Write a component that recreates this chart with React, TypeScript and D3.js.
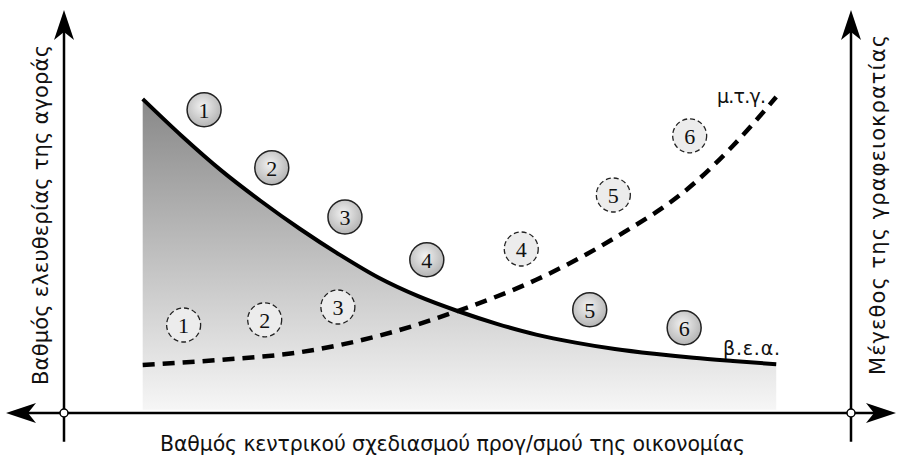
import React from "react";
import * as d3 from "d3";

// curve samples (x on 0..10 between the two vertical axes, y on 0..10 above the floor)
const beaX = [1.0, 1.5, 2.0, 2.5, 3.0, 3.5, 4.0, 4.5, 5.0, 5.5, 6.0, 6.5, 7.0, 7.5, 8.0, 8.5, 9.05];
const beaY = [7.85, 6.92, 6.06, 5.3, 4.6, 3.96, 3.38, 2.92, 2.55, 2.23, 1.96, 1.76, 1.6, 1.48, 1.38, 1.3, 1.22];
const mtgX = [1.0, 2.0, 3.0, 4.0, 5.0, 6.0, 7.0, 8.0, 8.5, 9.05];
const mtgY = [1.2, 1.33, 1.52, 1.93, 2.55, 3.33, 4.38, 5.73, 6.68, 7.9];

// numbered markers
const solidNums = ["1", "2", "3", "4", "5", "6"];
const solidX = [1.78, 2.64, 3.57, 4.61, 6.68, 7.88];
const solidY = [7.58, 6.13, 4.9, 3.83, 2.58, 2.13];
const dashNums = ["1", "2", "3", "4", "5", "6"];
const dashX = [1.52, 2.55, 3.48, 5.81, 6.98, 7.95];
const dashY = [2.2, 2.33, 2.65, 4.1, 5.45, 6.93];

const xTitle = "Βαθμός κεντρικού σχεδιασμού προγ/σμού της οικονομίας";
const yLeftTitle = "Βαθμός ελευθερίας της αγοράς";
const yRightTitle = "Μέγεθος της γραφειοκρατίας";
const beaLabel = "β.ε.α.";
const mtgLabel = "μ.τ.γ.";

const W = 898;
const H = 462;
const font = "'DejaVu Sans', sans-serif";

function Arrow({ x, y, angle }: { x: number; y: number; angle: number }) {
  return (
    <path
      d="M0,0 L-30,-10 L-22,0 L-30,10 Z"
      transform={`translate(${x},${y}) rotate(${angle})`}
      fill="#000"
    />
  );
}

export default function App() {
  const x = d3.scaleLinear().domain([0, 10]).range([64, 851]);
  const y = d3.scaleLinear().domain([0, 10]).range([413, 13]);

  const bea = beaX.map((v, i) => [v, beaY[i]] as [number, number]);
  const mtg = mtgX.map((v, i) => [v, mtgY[i]] as [number, number]);

  const line = d3
    .line<[number, number]>()
    .x(d => x(d[0]))
    .y(d => y(d[1]))
    .curve(d3.curveMonotoneX);
  const area = d3
    .area<[number, number]>()
    .x(d => x(d[0]))
    .y0(y(0.08))
    .y1(d => y(d[1]))
    .curve(d3.curveMonotoneX);

  const x0 = x(0);
  const x1 = x(10);
  const yb = y(0);

  return (
    <svg width={W} height={H} style={{ position: "absolute", left: 0, top: 0 }}>
      <defs>
        <linearGradient id="shade" x1="0" y1={y(7.85)} x2="0" y2={y(0.08)} gradientUnits="userSpaceOnUse">
          <stop offset="0" stopColor="#888" />
          <stop offset="1" stopColor="#f6f6f6" />
        </linearGradient>
        <radialGradient id="ball" cx="0.45" cy="0.4" r="0.6">
          <stop offset="0" stopColor="#f2f2f2" />
          <stop offset="1" stopColor="#b4b4b4" />
        </radialGradient>
      </defs>
      <rect width={W} height={H} fill="#fff" />

      <path d={area(bea) || ""} fill="url(#shade)" />
      <path d={line(bea) || ""} fill="none" stroke="#000" strokeWidth={4} />
      <path d={line(mtg) || ""} fill="none" stroke="#000" strokeWidth={4.5} strokeDasharray="12,8" />

      {/* axes */}
      <line x1={x0} y1={y(9.85)} x2={x0} y2={y(-0.72)} stroke="#000" strokeWidth={2.5} />
      <line x1={x1} y1={y(9.85)} x2={x1} y2={y(-0.72)} stroke="#000" strokeWidth={2.5} />
      <line x1={14} y1={yb} x2={W - 8} y2={yb} stroke="#000" strokeWidth={2.5} />
      <Arrow x={x0} y={10} angle={-90} />
      <Arrow x={x1} y={10} angle={-90} />
      <Arrow x={6} y={yb} angle={180} />
      <Arrow x={W - 2} y={yb} angle={0} />
      <circle cx={x0} cy={yb} r={4} fill="#fff" stroke="#000" strokeWidth={1.5} />
      <circle cx={x1} cy={yb} r={4} fill="#fff" stroke="#000" strokeWidth={1.5} />

      {solidNums.map((n, i) => (
        <g key={"s" + i} transform={`translate(${x(solidX[i])},${y(solidY[i])})`}>
          <circle r={17} fill="url(#ball)" stroke="#222" strokeWidth={1.5} />
          <text y={8} textAnchor="middle" fontFamily="'Liberation Serif', serif" fontSize={22} fill="#111">{n}</text>
        </g>
      ))}
      {dashNums.map((n, i) => (
        <g key={"d" + i} transform={`translate(${x(dashX[i])},${y(dashY[i])})`}>
          <circle r={17} fill="#ececec" stroke="#222" strokeWidth={1.3} strokeDasharray="5,3" />
          <text y={8} textAnchor="middle" fontFamily="'Liberation Serif', serif" fontSize={22} fill="#111">{n}</text>
        </g>
      ))}

      <text x={723} y={355} textLength={57} lengthAdjust="spacing" fontFamily={font} fontSize={19} fill="#111">{beaLabel}</text>
      <text x={717} y={103} textLength={49} lengthAdjust="spacing" fontFamily={font} fontSize={19} fill="#111">{mtgLabel}</text>

      <text x={160} y={451} textLength={585} lengthAdjust="spacing" fontFamily={font} fontSize={20.5} fill="#111">{xTitle}</text>
      <text transform="translate(48,385) rotate(-90)" textLength={340} lengthAdjust="spacing" fontFamily={font} fontSize={21} fill="#111">{yLeftTitle}</text>
      <text transform="translate(885,375) rotate(-90)" textLength={340} lengthAdjust="spacing" fontFamily={font} fontSize={21} fill="#111">{yRightTitle}</text>
    </svg>
  );
}
